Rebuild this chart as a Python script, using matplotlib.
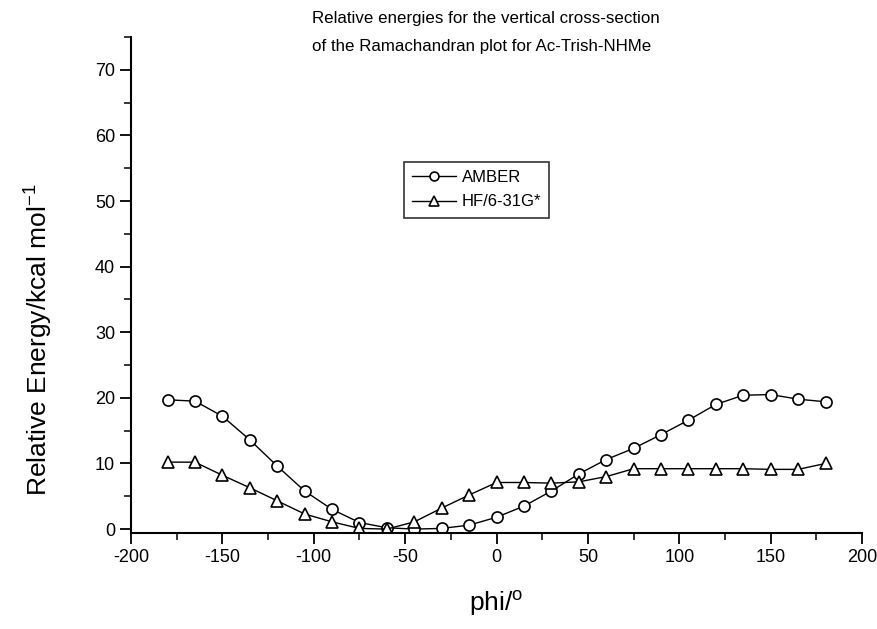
import matplotlib
matplotlib.use("Agg")
import matplotlib.pyplot as plt
from matplotlib.ticker import MultipleLocator

plt.rcParams['font.family'] = ['Liberation Sans', 'DejaVu Sans']
plt.rcParams['axes.unicode_minus'] = False

# phi angles, -180..180 step 15
phi = [-180, -165, -150, -135, -120, -105, -90, -75, -60, -45, -30, -15, 0,
       15, 30, 45, 60, 75, 90, 105, 120, 135, 150, 165, 180]

amber = [19.7, 19.5, 17.2, 13.6, 9.6, 5.8, 3.0, 1.0, 0.2, 0.0, 0.1, 0.6, 1.8,
         3.5, 5.8, 8.4, 10.6, 12.3, 14.4, 16.6, 19.0, 20.4, 20.5, 19.8, 19.4]

hf = [10.2, 10.2, 8.2, 6.3, 4.3, 2.3, 1.1, 0.1, 0.0, 1.1, 3.2, 5.2, 7.1,
      7.1, 7.0, 7.2, 8.0, 9.2, 9.2, 9.2, 9.2, 9.2, 9.1, 9.1, 10.0]

title_lines = ["Relative energies for the vertical cross-section",
               "of the Ramachandran plot for Ac-Trish-NHMe"]

fig = plt.figure(figsize=(8.77, 6.29), dpi=100)
ax = fig.add_axes([0.1494, 0.1526, 0.8336, 0.7886])

ax.plot(phi, amber, color='black', lw=1.0, marker='o', ms=8,
        mfc='white', mec='black', mew=1.2, label='AMBER')
ax.plot(phi, hf, color='black', lw=1.0, marker='^', ms=9,
        mfc='white', mec='black', mew=1.2, label='HF/6-31G*')

ax.set_xlim(-200, 200)
ax.set_ylim(-0.6, 75)

ax.xaxis.set_major_locator(MultipleLocator(50))
ax.xaxis.set_minor_locator(MultipleLocator(25))
ax.yaxis.set_major_locator(MultipleLocator(10))
ax.yaxis.set_minor_locator(MultipleLocator(5))
ax.set_yticks(range(0, 71, 10))

for s in ['top', 'right']:
    ax.spines[s].set_visible(False)
for s in ['left', 'bottom']:
    ax.spines[s].set_linewidth(1.5)

ax.tick_params(which='major', direction='out', length=8, width=1.3, labelsize=13)
ax.tick_params(which='minor', direction='out', length=5, width=1.1)

ax.set_xlabel("phi/$^{\\mathregular{o}}$", fontsize=19, labelpad=16)
ax.set_ylabel("Relative Energy/kcal mol$^{\\mathregular{-1}}$", fontsize=19)
ax.yaxis.set_label_coords(-0.105, 0.39)

fig.text(312 / 877, 1 - 11 / 629, "\n".join(title_lines),
         ha='left', va='top', fontsize=12.2, linespacing=2.05)

leg = ax.legend(loc='upper left', bbox_to_anchor=(0.362, 0.765), fontsize=12,
                frameon=True, fancybox=False, edgecolor='black',
                handlelength=2.6, borderpad=0.5, labelspacing=0.55,
                handletextpad=0.35, markerscale=0.8)
leg.get_frame().set_linewidth(1.2)

fig.savefig("out.png", dpi=100)
